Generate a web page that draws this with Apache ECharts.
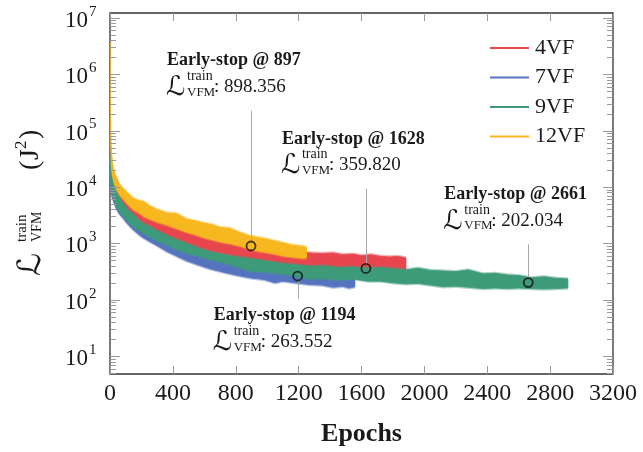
<!DOCTYPE html>
<html>
<head>
<meta charset="utf-8">
<script src="https://cdn.jsdelivr.net/npm/echarts@6/dist/echarts.min.js"></script>
<style>
  html, body { margin: 0; padding: 0; background: #fff; }
  #chart { width: 643px; height: 452px; }
</style>
</head>
<body>
<div id="chart"></div>
<script>
// Training loss envelopes (lower / upper edge of the noisy curve) per model, in J^2.
// 4VF
const epochs4 = [0, 3, 8, 15, 25, 42, 60, 85, 110, 148, 200, 254, 300, 360, 420, 488, 560, 636, 700, 780, 850, 920, 1000, 1100, 1180, 1272, 1350, 1420, 1480, 1546, 1600, 1660, 1720, 1780, 1830, 1883];
const hi4 = [39800, 28200, 20000, 15100, 12000, 9120, 7410, 6170, 5010, 4070, 3390, 2950, 2510, 2140, 1950, 1620, 1410, 1170, 1050, 955, 891, 832, 794, 724, 724, 676, 661, 676, 631, 646, 603, 631, 589, 575, 589, 550];
const lo4 = [25100, 15800, 11200, 8910, 7080, 5010, 4470, 3890, 3310, 2750, 2290, 2000, 1660, 1320, 1170, 955, 832, 724, 661, 603, 550, 513, 490, 427, 407, 363, 372, 355, 347, 355, 339, 347, 331, 331, 324, 324];

// 7VF
const epochs7 = [0, 3, 8, 15, 25, 42, 60, 85, 110, 148, 200, 254, 300, 360, 420, 488, 560, 636, 720, 800, 890, 980, 1050, 1100, 1180, 1272, 1350, 1420, 1480, 1520, 1558];
const hi7 = [31600, 22400, 15800, 11200, 8910, 6310, 5010, 3980, 3310, 2630, 2090, 1660, 1380, 1170, 1000, 832, 708, 589, 501, 427, 372, 347, 331, 316, 309, 295, 288, 275, 269, 263, 263];
const lo7 = [17800, 11200, 7940, 6310, 5250, 3980, 3310, 2750, 2240, 1740, 1320, 1070, 912, 724, 603, 490, 417, 355, 309, 275, 245, 229, 200, 214, 200, 186, 182, 166, 174, 162, 170];

// 9VF
const epochs9 = [0, 3, 8, 15, 25, 42, 60, 85, 110, 148, 200, 254, 300, 360, 420, 488, 560, 636, 720, 800, 890, 980, 1100, 1180, 1272, 1360, 1450, 1546, 1640, 1720, 1800, 1880, 1960, 2040, 2120, 2200, 2280, 2373, 2450, 2530, 2600, 2680, 2760, 2840, 2913];
const hi9 = [37200, 28200, 19100, 14100, 11200, 8130, 6460, 5010, 4070, 3240, 2340, 1950, 1660, 1380, 1180, 990, 832, 708, 631, 575, 537, 490, 437, 417, 392, 398, 372, 380, 363, 372, 355, 339, 363, 331, 324, 316, 339, 288, 295, 275, 269, 245, 257, 240, 234];
const lo9 = [20000, 14100, 10000, 7590, 6030, 4470, 3550, 3020, 2510, 2000, 1580, 1320, 1120, 955, 794, 676, 603, 525, 457, 398, 324, 316, 288, 263, 234, 240, 229, 234, 214, 214, 200, 191, 195, 182, 170, 174, 166, 158, 162, 158, 162, 158, 155, 158, 162];

// 12VF
const epochs12 = [0, 3, 8, 15, 25, 40, 60, 85, 110, 148, 180, 215, 254, 300, 360, 420, 488, 540, 600, 650, 700, 760, 820, 890, 950, 1020, 1100, 1160, 1220, 1250];
const hi12 = [3700000, 251000, 50000, 28000, 20000, 15100, 11200, 9330, 7940, 6310, 5750, 5500, 4570, 3980, 3470, 3390, 2690, 2510, 2290, 2140, 1910, 1860, 1580, 1350, 1260, 1150, 1020, 930, 890, 850];
const lo12 = [2000000, 79400, 25100, 15800, 12000, 9120, 7240, 6030, 5010, 3980, 3550, 3020, 2690, 2400, 2140, 1860, 1580, 1450, 1260, 1170, 1070, 1000, 912, 794, 724, 676, 603, 575, 550, 550];

// Early-stop points
const stopEpochs = [1628, 1194, 2661, 897];
const stopLoss = [359.820, 263.552, 202.034, 898.356];
const leaderEnd = [9230, 104, 960, 225000];

// Axis ticks
const xTicks = [0, 400, 800, 1200, 1600, 2000, 2400, 2800, 3200];
const yDecades = [1, 2, 3, 4, 5, 6, 7];

const names = ['4VF', '7VF', '9VF', '12VF'];
const colors = ['#E8464F', '#5673C0', '#3E9B79', '#F6B71F'];

const Y_MIN = 4.84, Y_MAX = 1.21e7;
const SERIF = '"Liberation Serif", "DejaVu Serif", serif';
const SCRIPT = '"DejaVu Serif", "DejaVu Sans", serif';
const FUZZ = 1.07; // soft fringe around each band

function bandSeries(idx, ep, lo, hi, z) {
  const data = ep.map((e, i) => [e, lo[i], hi[i]]);
  const color = colors[idx];
  return {
    type: 'custom',
    name: names[idx],
    coordinateSystem: 'cartesian2d',
    itemStyle: { color },
    encode: { x: 0, y: [1, 2] },
    z,
    clip: true,
    silent: true,
    data,
    renderItem(params, api) {
      if (params.dataIndex !== 0) return null;
      const upper = data.map(d => api.coord([d[0], d[2]]));
      const lower = data.map(d => api.coord([d[0], d[1]])).reverse();
      const upperF = data.map(d => api.coord([d[0], d[2] * FUZZ]));
      const lowerF = data.map(d => api.coord([d[0], d[1] / FUZZ])).reverse();
      return {
        type: 'group',
        children: [
          { type: 'polygon', shape: { points: upperF.concat(lowerF) }, style: { fill: color, opacity: 0.4 } },
          { type: 'polygon', shape: { points: upper.concat(lower) }, style: { fill: color, stroke: color, lineWidth: 0.8 } }
        ]
      };
    }
  };
}

// y-axis tick marks (major + minor) and 10^k labels drawn on the log scale
const yTickData = [];
yDecades.forEach(k => yTickData.push([0, Math.pow(10, k), 1, k]));
for (let k = 0; k <= 7; k++) {
  for (let m = 2; m <= 9; m++) {
    const v = m * Math.pow(10, k);
    if (v > Y_MIN && v < Y_MAX) yTickData.push([0, v, 0, k]);
  }
}

const yTickSeries = {
  type: 'custom',
  name: 'yticks',
  coordinateSystem: 'cartesian2d',
  encode: { x: 0, y: 1 },
  clip: false,
  silent: true,
  z: 5,
  data: yTickData,
  renderItem(params, api) {
    const rect = params.coordSys;
    const p = api.coord([0, api.value(1)]);
    const major = api.value(2) === 1;
    const len = major ? 10 : 6;
    const y = Math.round(p[1]) + 0.5;
    const L = rect.x, R = rect.x + rect.width;
    const children = [
      { type: 'line', shape: { x1: L, y1: y, x2: L + len, y2: y }, style: { stroke: '#9a9a9a', lineWidth: 1 } },
      { type: 'line', shape: { x1: R - len, y1: y, x2: R, y2: y }, style: { stroke: '#9a9a9a', lineWidth: 1 } }
    ];
    if (major) {
      children.push({ type: 'text', style: { text: '10', x: L - 22, y: p[1] + 3, align: 'right', verticalAlign: 'middle', font: '23px ' + SERIF, fill: '#1a1a1a' } });
      children.push({ type: 'text', style: { text: String(api.value(3)), x: L - 21, y: p[1] - 6, align: 'left', verticalAlign: 'middle', font: '15px ' + SERIF, fill: '#1a1a1a' } });
    }
    return { type: 'group', children };
  }
};

// Early-stop annotations: leader line + two-line label
const annotData = stopEpochs.map((e, i) => [e, stopLoss[i], leaderEnd[i]]);
const annotSeries = {
  type: 'custom',
  name: 'annot',
  coordinateSystem: 'cartesian2d',
  encode: { x: 0, y: [1, 2] },
  clip: false,
  silent: true,
  z: 8,
  data: annotData,
  renderItem(params, api) {
    const e = api.value(0), loss = api.value(1), end = api.value(2);
    const p0 = api.coord([e, loss]);
    const p1 = api.coord([e, end]);
    const up = end > loss;
    const x = Math.round(p0[0]) + 0.5;
    const line = up
      ? { x1: x, y1: p1[1], x2: x, y2: p0[1] - 4.5 }
      : { x1: x, y1: p0[1] + 4.5, x2: x, y2: p1[1] };
    const titleY = up ? p1[1] - 50 : p1[1] + 17;
    const rowY = titleY + 26.5;
    const x0 = p0[0] - 84;
    return {
      type: 'group',
      children: [
        { type: 'line', shape: line, style: { stroke: '#a8a8a8', lineWidth: 1 } },
        { type: 'text', style: { text: 'Early-stop @ ' + e, x: x0, y: titleY, align: 'left', verticalAlign: 'middle', font: 'bold 18px ' + SERIF, fill: '#1a1a1a' } },
        { type: 'text', style: { text: '\u2112', x: x0 - 1, y: rowY + 1, align: 'left', verticalAlign: 'middle', font: '27px ' + SCRIPT, fill: '#1a1a1a' } },
        { type: 'text', style: { text: 'train', x: x0 + 20, y: rowY - 11, align: 'left', verticalAlign: 'middle', font: '14px ' + SERIF, fill: '#1a1a1a' } },
        { type: 'text', style: { text: 'VFM', x: x0 + 20, y: rowY + 5, align: 'left', verticalAlign: 'middle', font: '13px ' + SERIF, fill: '#1a1a1a' } },
        { type: 'text', style: { text: ': ' + loss.toFixed(3), x: x0 + 47, y: rowY, align: 'left', verticalAlign: 'middle', font: '19px ' + SERIF, fill: '#1a1a1a' } }
      ]
    };
  }
};

const chart = echarts.init(document.getElementById('chart'), null, { renderer: 'canvas' });

chart.setOption({
  animation: false,
  backgroundColor: '#fff',
  grid: { left: 110, right: 30, top: 13, bottom: 73, show: true, borderColor: '#333', borderWidth: 1.3, backgroundColor: 'transparent' },
  legend: {
    data: names.map(n => ({ name: n, icon: 'rect' })),
    orient: 'vertical',
    left: 485,
    top: 32,
    itemWidth: 39,
    itemHeight: 2,
    itemGap: 7.5,
    selectedMode: false,
    textStyle: { fontFamily: SERIF, fontSize: 22, color: '#1a1a1a', padding: [0, 0, 0, 1] }
  },
  xAxis: [
    {
      type: 'value', min: 0, max: 3200, interval: 400,
      name: 'Epochs', nameLocation: 'middle', nameGap: 47,
      nameTextStyle: { fontFamily: SERIF, fontWeight: 'bold', fontSize: 26, color: '#1a1a1a' },
      axisLine: { show: false },
      axisTick: { inside: true, length: 8, lineStyle: { color: '#9a9a9a', width: 1 } },
      axisLabel: { fontFamily: SERIF, fontSize: 24, color: '#1a1a1a', margin: 8, formatter: v => String(v) },
      splitLine: { show: false }
    },
    {
      type: 'value', min: 0, max: 3200, interval: 400, position: 'top',
      axisLine: { show: false },
      axisTick: { inside: true, length: 8, lineStyle: { color: '#9a9a9a', width: 1 } },
      axisLabel: { show: false },
      splitLine: { show: false }
    }
  ],
  yAxis: {
    type: 'log', logBase: 10, min: Y_MIN, max: Y_MAX,
    axisLine: { show: false },
    axisTick: { show: false },
    axisLabel: { show: false },
    splitLine: { show: false }
  },
  graphic: [
    {
      type: 'group', x: 31, y: 274, rotation: Math.PI / 2,
      children: [
        { type: 'text', style: { text: '\u2112', x: -2, y: 1, align: 'left', verticalAlign: 'middle', font: '32px ' + SCRIPT, fill: '#1a1a1a' } },
        { type: 'text', style: { text: 'train', x: 32, y: -9, align: 'left', verticalAlign: 'middle', font: '15px ' + SERIF, fill: '#1a1a1a' } },
        { type: 'text', style: { text: 'VFM', x: 32, y: 6, align: 'left', verticalAlign: 'middle', font: '14px ' + SERIF, fill: '#1a1a1a' } },
        { type: 'text', style: { text: '(', x: 104, y: 0, align: 'left', verticalAlign: 'middle', font: '28px ' + SERIF, fill: '#1a1a1a' } },
        { type: 'text', style: { text: 'J', x: 114, y: 0, align: 'left', verticalAlign: 'middle', font: '28px ' + SERIF, fill: '#1a1a1a' } },
        { type: 'text', style: { text: '2', x: 125, y: -9, align: 'left', verticalAlign: 'middle', font: '17px ' + SERIF, fill: '#1a1a1a' } },
        { type: 'text', style: { text: ')', x: 135, y: 0, align: 'left', verticalAlign: 'middle', font: '28px ' + SERIF, fill: '#1a1a1a' } }
      ]
    }
  ],
  series: [
    bandSeries(0, epochs4, lo4, hi4, 2),
    bandSeries(1, epochs7, lo7, hi7, 3),
    bandSeries(2, epochs9, lo9, hi9, 4),
    bandSeries(3, epochs12, lo12, hi12, 5),
    yTickSeries,
    annotSeries,
    {
      type: 'scatter',
      name: 'stops',
      data: stopEpochs.map((e, i) => [e, stopLoss[i]]),
      symbol: 'circle',
      symbolSize: 9,
      silent: true,
      z: 10,
      itemStyle: { color: 'rgba(0,0,0,0)', borderColor: '#111', borderWidth: 1.8 }
    }
  ]
});
</script>
</body>
</html>
